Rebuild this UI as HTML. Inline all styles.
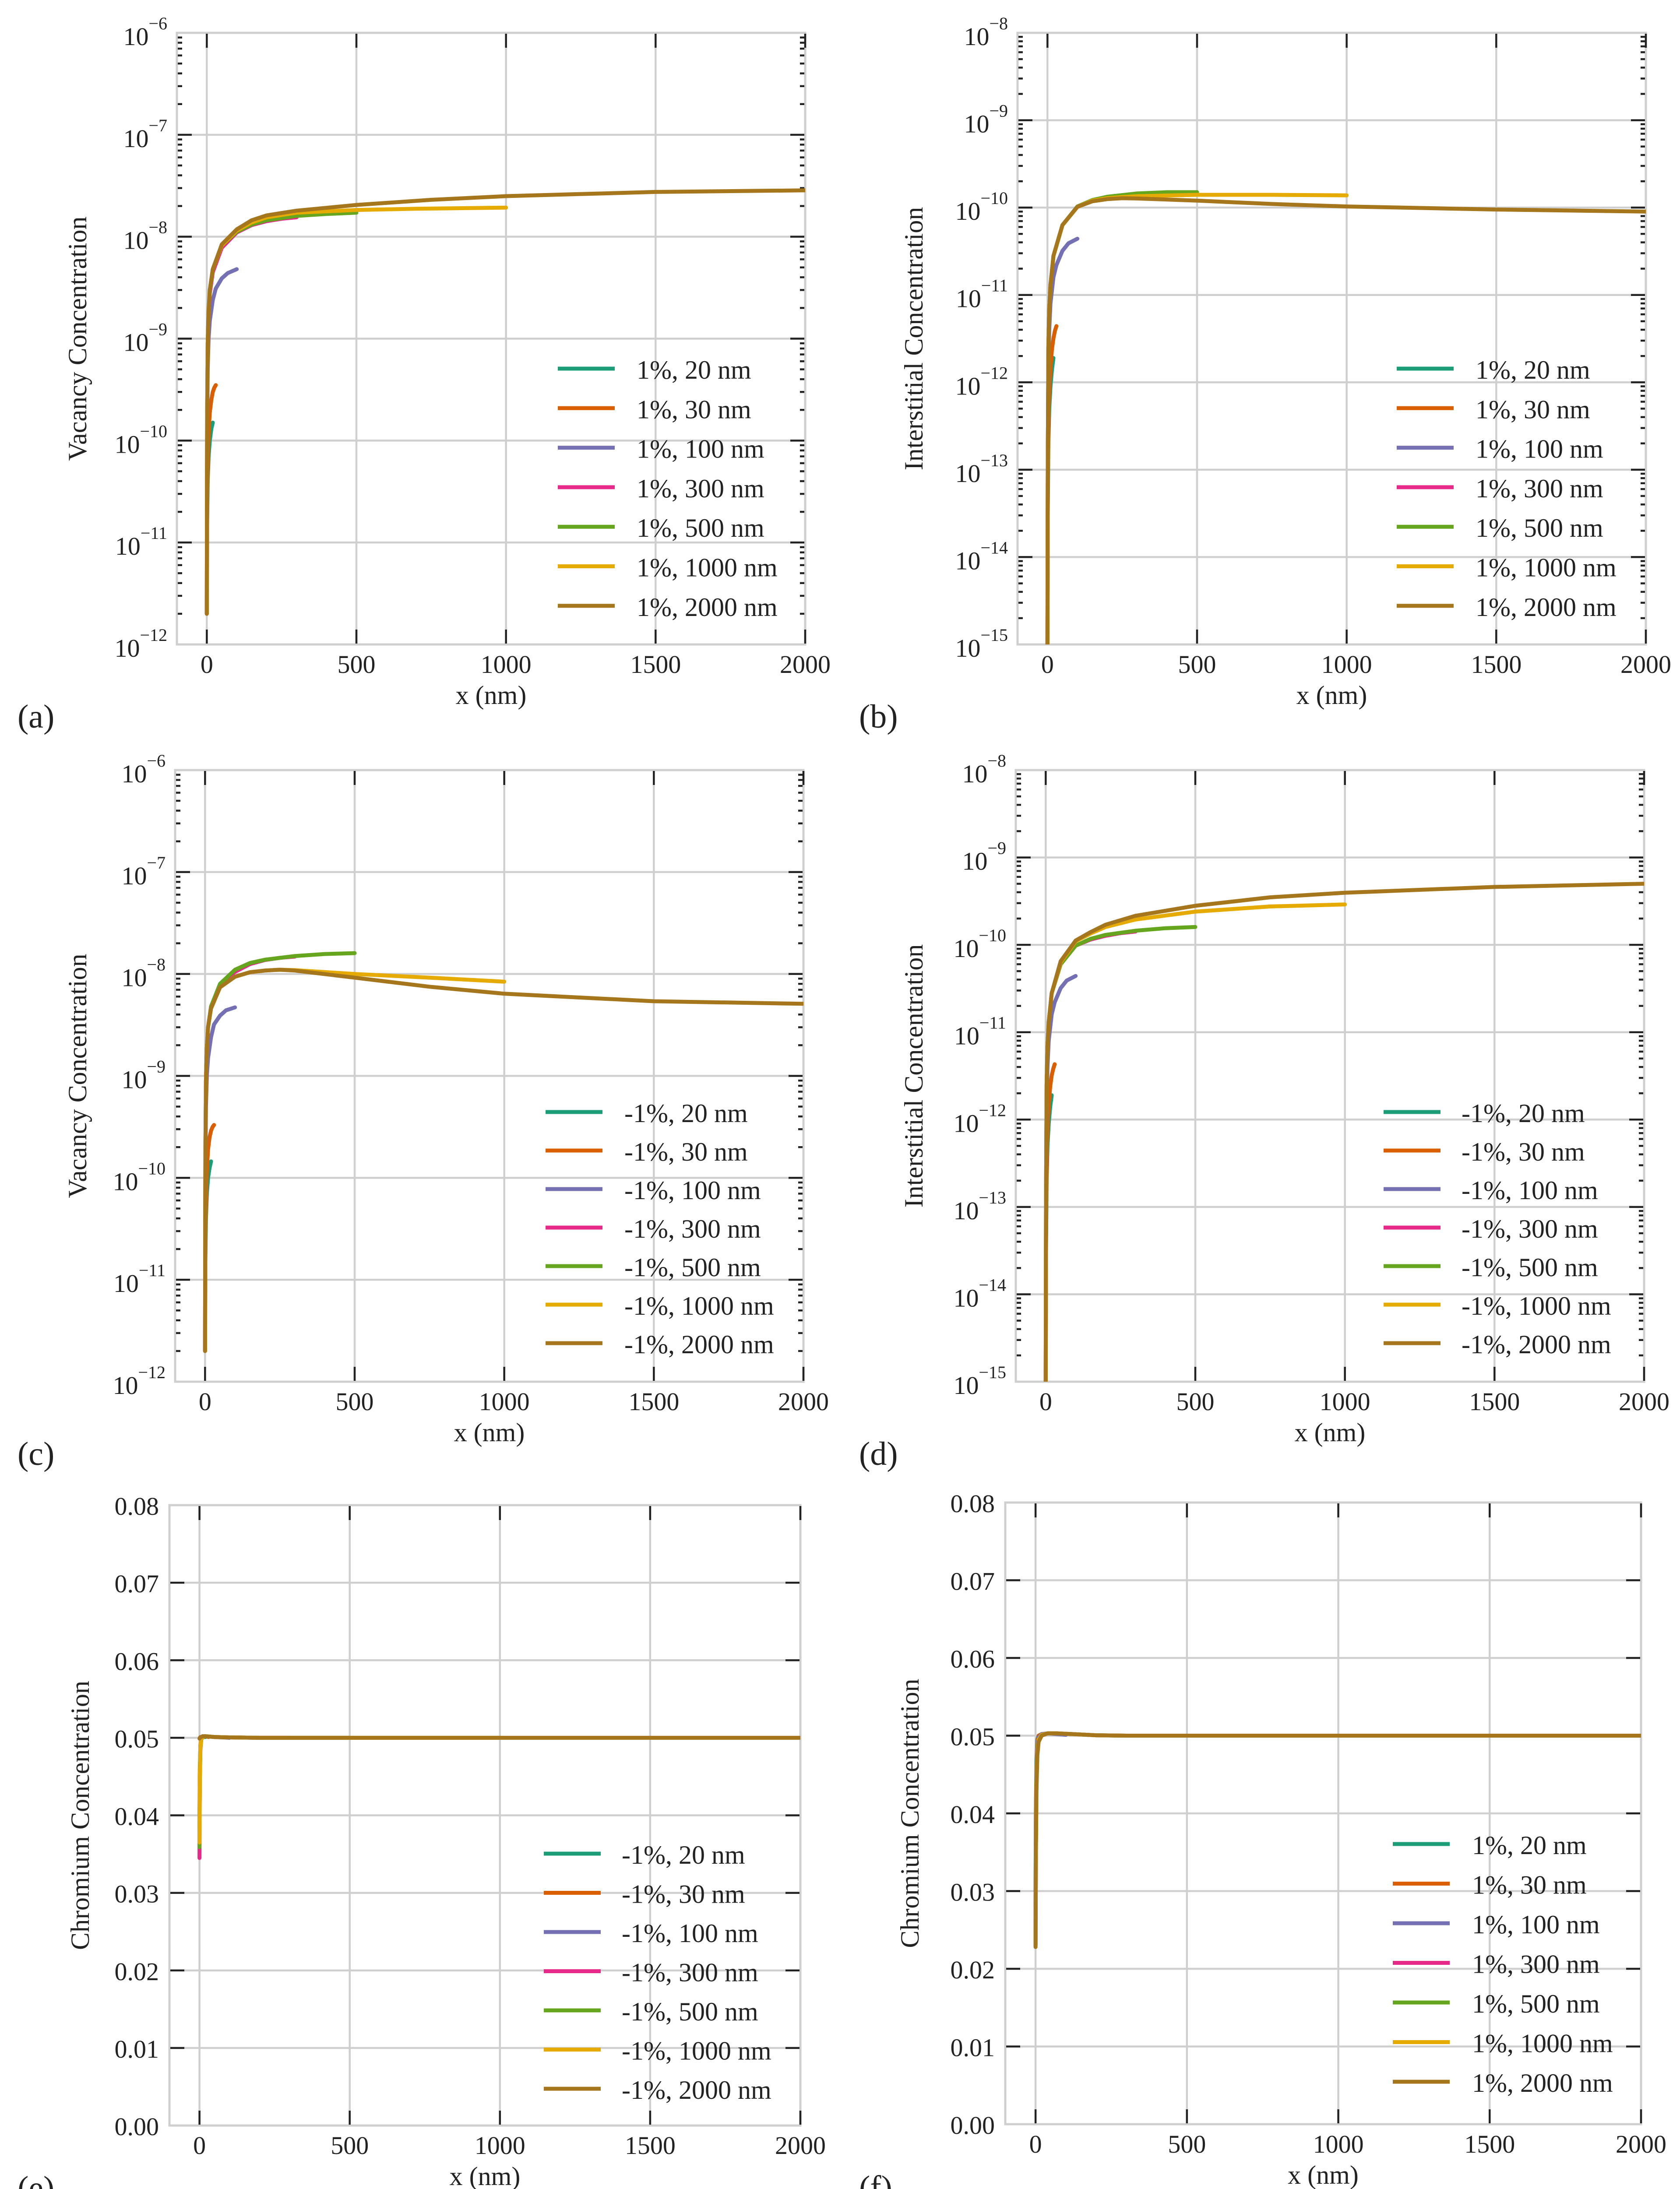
<!DOCTYPE html>
<html><head><meta charset="utf-8"><style>
html,body{margin:0;padding:0;background:#fff;width:3837px;height:5084px;overflow:hidden;}
svg{display:block;}
text{font-family:"Liberation Serif",serif;fill:#222;}
</style></head><body>
<svg id="fig" xmlns="http://www.w3.org/2000/svg" width="3837" height="5084" viewBox="0 0 3837 5084" overflow="hidden"></svg>
<script>
// ---------- data ----------
const sizes = [20, 30, 100, 300, 500, 1000, 2000];
const colors = ["#1b9e77","#d95f02","#7570b3","#e7298a","#66a61e","#e6ab02","#a6761d"];
const xTicks = [0, 500, 1000, 1500, 2000];
const logTicksVac = [-12,-11,-10,-9,-8,-7,-6];
const logTicksInt = [-15,-14,-13,-12,-11,-10,-9,-8];
const linTicks = [0,0.01,0.02,0.03,0.04,0.05,0.06,0.07,0.08];

// panel (a) vacancy, +1%
const aX = [
 [0,1,3,6,10,15,20],
 [0,1,3,6,10,15,20,25,30],
 [0,1,3,6,10,20,30,50,70,100],
 [0,1,3,6,10,20,50,100,150,200,250,300],
 [0,1,3,6,10,20,50,100,150,200,300,400,500],
 [0,1,3,6,10,20,50,100,150,200,300,500,700,1000],
 [0,1,3,6,10,20,50,100,150,200,300,500,750,1000,1500,2000]];
const aY = [
 [2e-12,1.5e-11,4e-11,7e-11,1e-10,1.3e-10,1.5e-10],
 [2e-12,1.8e-11,6e-11,1.2e-10,1.9e-10,2.5e-10,3e-10,3.3e-10,3.5e-10],
 [2e-12,1e-10,5e-10,1e-9,1.5e-9,2.4e-9,3.1e-9,3.9e-9,4.4e-9,4.8e-9],
 [2e-12,1.5e-10,9e-10,1.8e-9,2.8e-9,4.5e-9,7.8e-9,1.1e-8,1.3e-8,1.42e-8,1.5e-8,1.55e-8],
 [2e-12,1.5e-10,9e-10,1.9e-9,3e-9,4.8e-9,8.2e-9,1.12e-8,1.32e-8,1.45e-8,1.6e-8,1.67e-8,1.72e-8],
 [2e-12,1.5e-10,9e-10,1.9e-9,3e-9,4.8e-9,8.2e-9,1.15e-8,1.38e-8,1.55e-8,1.72e-8,1.83e-8,1.88e-8,1.93e-8],
 [2e-12,1.5e-10,9e-10,1.9e-9,3e-9,4.8e-9,8.4e-9,1.18e-8,1.45e-8,1.62e-8,1.8e-8,2.05e-8,2.3e-8,2.5e-8,2.75e-8,2.85e-8]];

// panel (b) interstitial, +1%
const bX = [
 [0,1,3,6,10,15,20],
 [0,1,3,6,10,15,20,25,30],
 [0,1,3,6,10,20,30,50,70,100],
 [0,1,3,6,10,20,50,100,150,200,250,300],
 [0,1,3,6,10,20,50,100,150,200,300,400,500],
 [0,1,3,6,10,20,50,100,150,200,250,300,500,750,1000],
 [0,1,3,6,10,20,50,100,150,200,250,300,500,750,1000,1500,2000]];
const bY = [
 [1e-16,3e-14,2e-13,5e-13,9e-13,1.4e-12,1.9e-12],
 [1e-16,4e-14,3e-13,8e-13,1.5e-12,2.4e-12,3.2e-12,3.9e-12,4.4e-12],
 [1e-16,8e-14,1.5e-12,4e-12,8e-12,1.6e-11,2.2e-11,3.2e-11,3.9e-11,4.4e-11],
 [1e-16,1e-13,2.5e-12,7e-12,1.3e-11,2.8e-11,6.3e-11,1.02e-10,1.2e-10,1.3e-10,1.38e-10,1.45e-10],
 [1e-16,1e-13,2.5e-12,7e-12,1.3e-11,2.8e-11,6.3e-11,1.03e-10,1.22e-10,1.33e-10,1.45e-10,1.5e-10,1.5e-10],
 [1e-16,1e-13,2.5e-12,7e-12,1.3e-11,2.8e-11,6.3e-11,1.02e-10,1.2e-10,1.28e-10,1.32e-10,1.35e-10,1.4e-10,1.4e-10,1.38e-10],
 [1e-16,1e-13,2.5e-12,7e-12,1.3e-11,2.8e-11,6.3e-11,1.02e-10,1.18e-10,1.25e-10,1.28e-10,1.27e-10,1.2e-10,1.1e-10,1.03e-10,9.5e-11,9e-11]];

// panel (c) vacancy, -1%
const cX = [
 [0,1,3,6,10,15,20],
 [0,1,3,6,10,15,20,25,30],
 [0,1,3,6,10,20,30,50,70,100],
 [0,1,3,6,10,20,50,100,150,200,250,300],
 [0,1,3,6,10,20,50,100,150,200,300,400,500],
 [0,1,3,6,10,20,50,100,150,200,250,300,500,750,1000],
 [0,1,3,6,10,20,50,100,150,200,250,300,500,750,1000,1500,2000]];
const cY = [
 [2e-12,1.5e-11,4e-11,7e-11,1e-10,1.25e-10,1.45e-10],
 [2e-12,1.8e-11,6e-11,1.2e-10,1.9e-10,2.5e-10,2.9e-10,3.15e-10,3.3e-10],
 [2e-12,1e-10,5e-10,1e-9,1.5e-9,2.4e-9,3.2e-9,3.9e-9,4.4e-9,4.7e-9],
 [2e-12,1.5e-10,9e-10,1.9e-9,3e-9,4.8e-9,7.8e-9,1.05e-8,1.25e-8,1.37e-8,1.44e-8,1.48e-8],
 [2e-12,1.5e-10,9e-10,1.9e-9,3e-9,4.8e-9,8e-9,1.1e-8,1.28e-8,1.38e-8,1.5e-8,1.57e-8,1.6e-8],
 [2e-12,1.5e-10,9e-10,1.9e-9,3e-9,4.6e-9,7.4e-9,9.4e-9,1.04e-8,1.08e-8,1.1e-8,1.09e-8,1e-8,9.2e-9,8.4e-9],
 [2e-12,1.5e-10,9e-10,1.9e-9,3e-9,4.6e-9,7.4e-9,9.4e-9,1.04e-8,1.08e-8,1.1e-8,1.08e-8,9.2e-9,7.5e-9,6.4e-9,5.4e-9,5.1e-9]];

// panel (d) interstitial, -1%
const dX = [
 [0,1,3,6,10,15,20],
 [0,1,3,6,10,15,20,25,30],
 [0,1,3,6,10,20,30,50,70,100],
 [0,1,3,6,10,20,50,100,150,200,250,300],
 [0,1,3,6,10,20,50,100,150,200,300,400,500],
 [0,1,3,6,10,20,50,100,150,200,300,500,750,1000],
 [0,1,3,6,10,20,50,100,150,200,300,500,750,1000,1500,2000]];
const dY = [
 [1e-16,3e-14,2e-13,5e-13,9e-13,1.4e-12,1.9e-12],
 [1e-16,4e-14,3e-13,8e-13,1.5e-12,2.4e-12,3.2e-12,3.8e-12,4.3e-12],
 [1e-16,8e-14,1.5e-12,4e-12,8e-12,1.6e-11,2.2e-11,3.2e-11,3.9e-11,4.4e-11],
 [1e-16,1e-13,2.5e-12,7e-12,1.3e-11,2.8e-11,6e-11,9.8e-11,1.15e-10,1.27e-10,1.36e-10,1.42e-10],
 [1e-16,1e-13,2.5e-12,7e-12,1.3e-11,2.8e-11,6e-11,9.8e-11,1.17e-10,1.3e-10,1.45e-10,1.55e-10,1.6e-10],
 [1e-16,1e-13,2.5e-12,7e-12,1.3e-11,2.8e-11,6.3e-11,1.1e-10,1.35e-10,1.6e-10,1.95e-10,2.4e-10,2.75e-10,2.9e-10],
 [1e-16,1e-13,2.5e-12,7e-12,1.3e-11,2.8e-11,6.5e-11,1.12e-10,1.4e-10,1.7e-10,2.15e-10,2.8e-10,3.5e-10,3.95e-10,4.6e-10,5e-10]];

// panel (e) chromium, -1%
const eX = [
 [0,1,3,6,10,20],
 [0,1,3,6,10,20,30],
 [0,1,3,6,10,20,50,100],
 [0,1,3,6,10,20,50,100,200,300],
 [0,1,3,6,10,20,50,100,200,300,500],
 [0,1,3,6,10,20,50,100,200,300,500,1000],
 [0,1,3,6,10,20,50,100,200,300,500,1000,2000]];
const eY = [
 [0.040,0.046,0.049,0.0499,0.0501,0.0501],
 [0.038,0.045,0.049,0.0499,0.0501,0.0502,0.0501],
 [0.037,0.045,0.0488,0.0499,0.0501,0.0502,0.0501,0.0500],
 [0.0345,0.044,0.0485,0.0498,0.0501,0.0502,0.0501,0.05005,0.0500,0.0500],
 [0.0359,0.0445,0.0487,0.0498,0.0501,0.0502,0.0501,0.05005,0.0500,0.0500,0.0500],
 [0.0365,0.045,0.0488,0.0499,0.0501,0.0502,0.0501,0.05005,0.0500,0.0500,0.0500,0.0500],
 [0.0499,0.0500,0.0501,0.0501,0.0502,0.0502,0.0501,0.05005,0.0500,0.0500,0.0500,0.0500,0.0500]];

// panel (f) chromium, +1%
const fX = [
 [0,1,3,6,10,20],
 [0,1,3,6,10,20,30],
 [0,1,3,6,10,20,40,70,100],
 [0,1,3,6,10,20,40,70,120,200,300],
 [0,1,3,6,10,20,40,70,120,200,300,500],
 [0,1,3,6,10,20,40,70,120,200,300,500,1000],
 [0,1,3,6,10,20,40,70,120,200,300,500,1000,2000]];
const fY = [
 [0.030,0.040,0.047,0.0495,0.0500,0.0501],
 [0.028,0.039,0.046,0.0493,0.0500,0.0502,0.0502],
 [0.025,0.037,0.045,0.0488,0.0498,0.0502,0.0503,0.0502,0.0501],
 [0.023,0.035,0.044,0.048,0.0495,0.0501,0.0503,0.0503,0.0502,0.05005,0.0500],
 [0.023,0.035,0.044,0.048,0.0495,0.0501,0.0503,0.0503,0.0502,0.05005,0.0500,0.0500],
 [0.023,0.035,0.044,0.048,0.0495,0.0501,0.0503,0.0503,0.0502,0.05005,0.0500,0.0500,0.0500],
 [0.0228,0.034,0.043,0.0475,0.0492,0.0500,0.0503,0.0503,0.0502,0.05005,0.0500,0.0500,0.0500,0.0500]];

// ---------- drawing ----------
const NS = "http://www.w3.org/2000/svg";
const svg = document.getElementById("fig");
function mk(tag, attrs, parent) {
  const e = document.createElementNS(NS, tag);
  for (const k in attrs) e.setAttribute(k, attrs[k]);
  (parent || svg).appendChild(e);
  return e;
}

const panels = [
 {id:"a", L:404, T:75, W:1435, H:1397, type:"log", ymin:-12, ymax:-6, ticks:logTicksVac, X:aX, Y:aY, ytitle:"Vacancy Concentration", prefix:"1%", lx:870, lt:1050, ly:767, ls:90.3, titleX:197, labX:40, labDy:190},
 {id:"b", L:2324, T:75, W:1435, H:1397, type:"log", ymin:-15, ymax:-8, ticks:logTicksInt, X:bX, Y:bY, ytitle:"Interstitial Concentration", prefix:"1%", lx:866, lt:1046, ly:767, ls:90.3, titleX:2107, labX:1962, labDy:190},
 {id:"c", L:400, T:1759, W:1435, H:1397, type:"log", ymin:-12, ymax:-6, ticks:logTicksVac, X:cX, Y:cY, ytitle:"Vacancy Concentration", prefix:"-1%", lx:846, lt:1026, ly:781, ls:88, titleX:197, labX:40, labDy:190},
 {id:"d", L:2320, T:1759, W:1435, H:1397, type:"log", ymin:-15, ymax:-8, ticks:logTicksInt, X:dX, Y:dY, ytitle:"Interstitial Concentration", prefix:"-1%", lx:840, lt:1018, ly:781, ls:88, titleX:2107, labX:1962, labDy:190},
 {id:"e", L:387, T:3438, W:1441, H:1417, type:"lin", ymin:0, ymax:0.08, ticks:linTicks, X:eX, Y:eY, ytitle:"Chromium Concentration", prefix:"-1%", lx:855, lt:1033, ly:796, ls:89.5, titleX:203, labX:40, labDy:168},
 {id:"f", L:2296, T:3432, W:1452, H:1420, type:"lin", ymin:0, ymax:0.08, ticks:linTicks, X:fX, Y:fY, ytitle:"Chromium Concentration", prefix:"1%", lx:885, lt:1066, ly:780, ls:90.5, titleX:2098, labX:1962, labDy:170}
];

panels.forEach(p => {
  const g = mk("g", {});
  
  
  const B = p.T + p.H, R = p.L + p.W;
  const sx = v => p.L + (v + 100) / 2100 * p.W;
  const sy = v => {
    const t = p.type === "log" ? Math.log10(Math.max(v, 1e-30)) : v;
    return B - (t - p.ymin) / (p.ymax - p.ymin) * p.H;
  };
  const syT = t => B - (t - p.ymin) / (p.ymax - p.ymin) * p.H;
  const cid = "clip-" + p.id;
  const cp = mk("clipPath", {id: cid}, g);
  mk("rect", {x:p.L, y:p.T, width:p.W, height:p.H}, cp);

  xTicks.forEach(v => {
    const l = mk("line", {x1:sx(v), x2:sx(v), y1:p.T, y2:B, stroke:"#cfcfcf", "stroke-width":4.5}, g);
    
    
  });
  p.ticks.forEach(t => {
    const y = syT(t);
    const l = mk("line", {x1:p.L, x2:R, y1:y, y2:y, stroke:"#cfcfcf", "stroke-width":4.5}, g);
    
    
  });
  const fr = mk("rect", {x:p.L, y:p.T, width:p.W, height:p.H, fill:"none", stroke:"#cfcfcf", "stroke-width":5}, g);
  
  

  xTicks.forEach(v => {
    const x = sx(v);
    mk("line", {x1:x, x2:x, y1:p.T + 2, y2:p.T + 34, stroke:"#222", "stroke-width":4.5}, g);
    mk("line", {x1:x, x2:x, y1:B - 2, y2:B - 34, stroke:"#222", "stroke-width":4.5}, g);
    const tl = mk("text", {x:x, y:B + 65, "font-size":58, "text-anchor":"middle"}, g);
    tl.textContent = String(v);
    
    
  });
  p.ticks.forEach((t, i) => {
    const y = syT(t);
    if (i > 0 && i < p.ticks.length - 1) {
      mk("line", {x1:p.L + 2, x2:p.L + 34, y1:y, y2:y, stroke:"#222", "stroke-width":4.5}, g);
      mk("line", {x1:R - 2, x2:R - 34, y1:y, y2:y, stroke:"#222", "stroke-width":4.5}, g);
    }
    let tl;
    if (p.type === "log") {
      tl = mk("text", {x:p.L - 22, y:y + 28, "font-size":58, "text-anchor":"end"}, g);
      tl.appendChild(document.createTextNode("10"));
      const sp = mk("tspan", {dy:-36, "font-size":40}, tl);
      sp.textContent = "\u2212" + Math.abs(t);
    } else {
      tl = mk("text", {x:p.L - 24, y:y + 22, "font-size":58, "text-anchor":"end"}, g);
      tl.textContent = t.toFixed(2);
    }
    
    
    if (p.type === "log" && t < p.ymax) {
      for (let m = 2; m <= 9; m++) {
        const ym = syT(t + Math.log10(m));
        mk("line", {x1:p.L + 2, x2:p.L + 12, y1:ym, y2:ym, stroke:"#222", "stroke-width":4.5}, g);
        mk("line", {x1:R - 2, x2:R - 12, y1:ym, y2:ym, stroke:"#222", "stroke-width":4.5}, g);
      }
    }
  });

  p.X.forEach((xs, s) => {
    const d = xs.map((x, i) => (i ? "L" : "M") + sx(x).toFixed(1) + " " + Math.min(sy(p.Y[s][i]), B + 20).toFixed(1)).join(" ");
    const path = mk("path", {d:d, fill:"none", stroke:colors[s], "stroke-width":9, "stroke-linejoin":"round", "stroke-linecap":"round", "clip-path":"url(#" + cid + ")"}, g);
    
    
  });

  sizes.forEach((sz, s) => {
    const y = p.T + p.ly + s * p.ls;
    const ln = mk("line", {x1:p.L + p.lx, x2:p.L + p.lx + 130, y1:y, y2:y, stroke:colors[s], "stroke-width":9}, g);
    
    
    const tx = mk("text", {x:p.L + p.lt, y:y + 23, "font-size":60}, g);
    tx.textContent = p.prefix + ", " + sz + " nm";
    
    
  });

  const xt = mk("text", {x:sx(950), y:B + 136, "font-size":60, "text-anchor":"middle"}, g);
  xt.textContent = "x (nm)";
  
  
  const cy = p.T + p.H / 2;
  const yt = mk("text", {x:p.titleX, y:cy, "font-size":60, "text-anchor":"middle", transform:"rotate(-90 " + p.titleX + " " + cy + ")"}, g);
  yt.textContent = p.ytitle;
  
  

  const pl = mk("text", {x:p.labX, y:B + p.labDy, "font-size":76}, g);
  pl.textContent = "(" + p.id + ")";
  
  
});
</script>
</body></html>
